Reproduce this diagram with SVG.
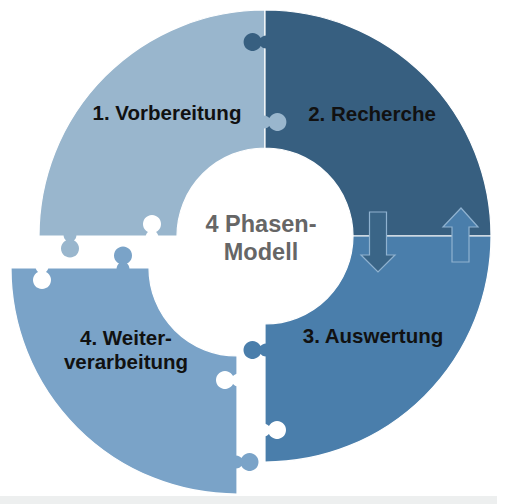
<svg xmlns="http://www.w3.org/2000/svg" xmlns:xlink="http://www.w3.org/1999/xlink" width="506" height="504" viewBox="0 0 506 504">
<style>
.q{stroke:#ffffff;stroke-width:1.2}
.q1{fill:#99B6CD}
.q2{fill:#375F80}
.q3{fill:#4A7EAB}
.q4{fill:#7AA3C8}
.hole{fill:#ffffff}
.lbl{font-family:"Liberation Sans",Arial,sans-serif;font-weight:bold;font-size:20.5px;fill:#111111;text-anchor:middle}
.ctr{font-family:"Liberation Sans",Arial,sans-serif;font-weight:bold;font-size:23.5px;fill:#666666;text-anchor:middle}
.arr{stroke:#8FB2D0;stroke-width:1.2}
</style>
<defs>
<path id="knob" d="M -1 -6.5 C 2.5 -6.5 4 -5 4.94 -4 A 9 9 0 1 1 4.94 4 C 4 5 2.5 6.5 -1 6.5 Z"/>
</defs>
<rect x="0" y="0" width="506" height="504" fill="#ffffff"/>
<rect x="0" y="496" width="497" height="8" fill="#EDEFEF"/>
<g id="phase1">
<path class="q q1" d="M 265 10 A 226 226 0 0 0 39 236 L 177 236 A 88 88 0 0 1 265 148 Z"/>
</g>
<g id="phase2">
<path class="q q2" d="M 265 10 A 226 226 0 0 1 491 236 L 353 236 A 88 88 0 0 0 265 148 Z"/>
</g>
<g id="phase3">
<path class="q q3" d="M 491 236 A 226 226 0 0 1 265 462 L 265 324 A 88 88 0 0 0 353 236 Z"/>
</g>
<g id="phase4">
<path class="q q4" d="M 11 268 A 226 226 0 0 0 237 494 L 237 356 A 88 88 0 0 1 149 268 Z"/>
</g>
<g id="knobs">
<use xlink:href="#knob" class="q2" transform="translate(265.6,42) rotate(180)"/>
<use xlink:href="#knob" class="q1" transform="translate(264.4,122)"/>
<use xlink:href="#knob" class="hole" transform="translate(152,237) rotate(-90)"/>
<use xlink:href="#knob" class="q1" transform="translate(70,235.5) rotate(90)"/>
<use xlink:href="#knob" class="q4" transform="translate(123,268.5) rotate(-90)"/>
<use xlink:href="#knob" class="hole" transform="translate(42,267) rotate(90)"/>
<use xlink:href="#knob" class="q3" transform="translate(265.5,350) rotate(180)"/>
<use xlink:href="#knob" class="hole" transform="translate(238,380) rotate(180)"/>
<use xlink:href="#knob" class="hole" transform="translate(264,430)"/>
<use xlink:href="#knob" class="q4" transform="translate(236.5,462)"/>
</g>
<g id="connectors">
<path class="arr" fill="#3A6587" d="M 369.5 212 L 386.5 212 L 386.5 255 L 395 255 L 378 272 L 361 255 L 369.5 255 Z"/>
<path class="arr" fill="#4A7EAB" d="M 461 208 L 478 227 L 469 227 L 469 262 L 452 262 L 452 227 L 443 227 Z"/>
</g>
<g id="labels">
<text class="lbl" x="167" y="120">1. Vorbereitung</text>
<text class="lbl" x="372" y="121">2. Recherche</text>
<text class="lbl" x="373" y="343">3. Auswertung</text>
<text class="lbl" x="126" y="345">4. Weiter-</text>
<text class="lbl" x="126" y="369">verarbeitung</text>
</g>
<g id="center">
<text class="ctr" x="261" y="232">4 Phasen-</text>
<text class="ctr" x="261" y="260">Modell</text>
</g>
</svg>
